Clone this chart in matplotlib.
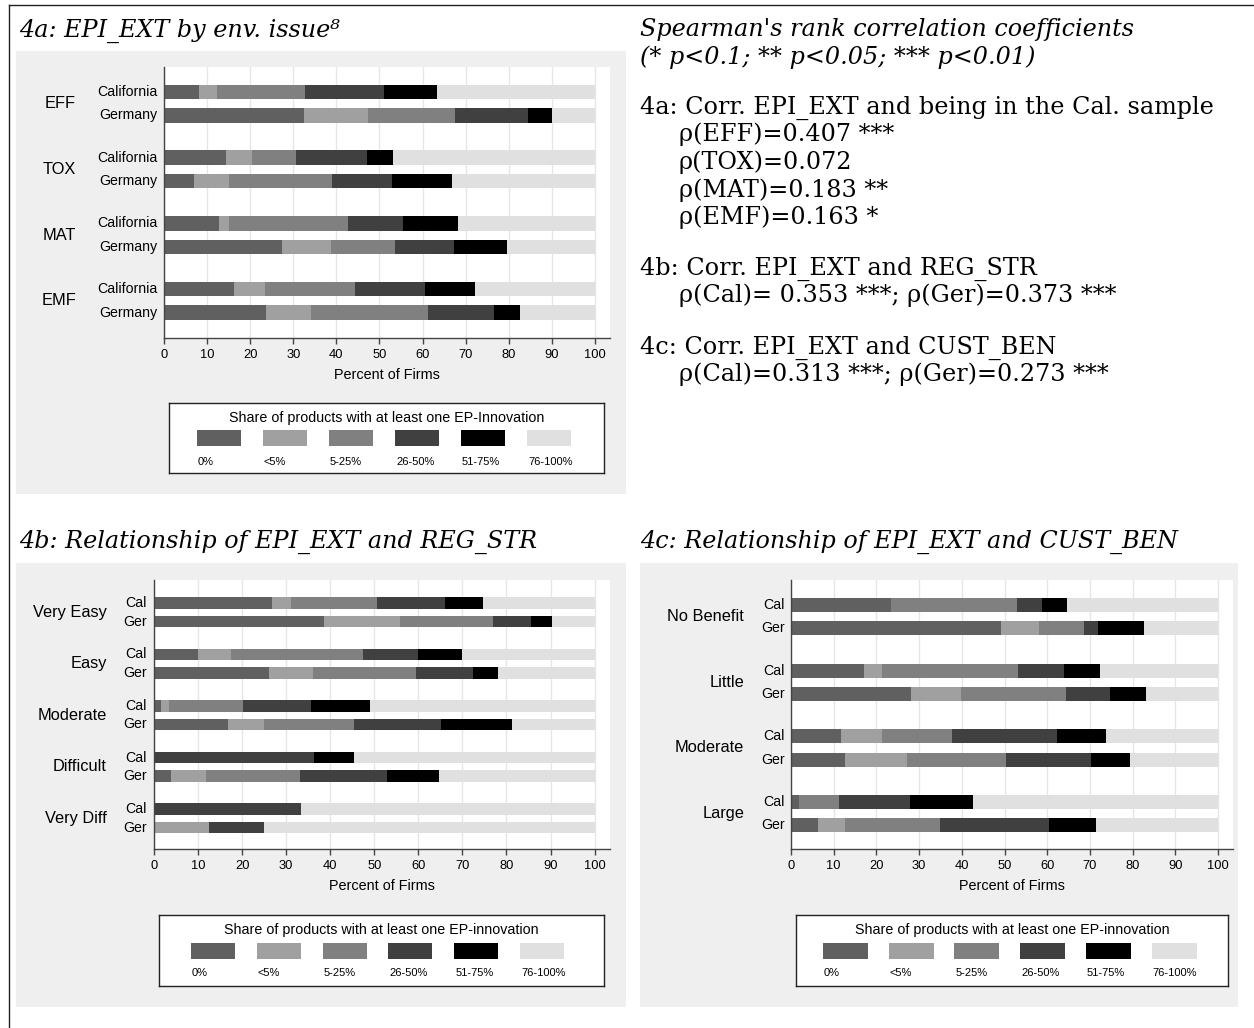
import numpy as np
import matplotlib
matplotlib.use("Agg")
import matplotlib.pyplot as plt
from matplotlib.patches import Rectangle
from matplotlib.lines import Line2D
from matplotlib import transforms

W, H, DPI = 1254, 1028, 100

# ---- categories and shares (percent of firms) ----
share_labels = ["0%", "<5%", "5-25%", "26-50%", "51-75%", "76-100%"]
share_colors = ["#606060", "#a0a0a0", "#808080", "#404040", "#000000", "#e0e0e0"]

issues = ["EFF", "TOX", "MAT", "EMF"]
issue_rows = ["California", "Germany"]
issue_cal = [[8.2, 4.1, 20.4, 18.3, 12.3, 36.7],
             [14.4, 6.0, 10.3, 16.3, 6.1, 46.9],
             [12.8, 2.2, 27.7, 12.7, 12.8, 31.8],
             [16.3, 7.1, 20.9, 16.2, 11.7, 27.8]]
issue_ger = [[32.6, 14.7, 20.3, 16.8, 5.6, 10.0],
             [6.9, 8.1, 24.1, 13.8, 13.9, 33.2],
             [27.4, 11.3, 14.8, 13.7, 12.4, 20.4],
             [23.6, 10.5, 27.1, 15.3, 6.0, 17.5]]

reg_levels = ["Very Easy", "Easy", "Moderate", "Difficult", "Very Diff"]
short_rows = ["Cal", "Ger"]
reg_cal = [[26.8, 4.2, 19.6, 15.5, 8.5, 25.4],
           [10.0, 7.4, 30.1, 12.5, 10.0, 30.0],
           [1.6, 1.8, 16.9, 15.3, 13.5, 50.9],
           [0.0, 0.0, 0.0, 36.3, 9.1, 54.6],
           [0.0, 0.0, 0.0, 33.3, 0.0, 66.7]]
reg_ger = [[38.5, 17.3, 21.1, 8.6, 4.8, 9.7],
           [26.1, 10.1, 23.2, 13.1, 5.6, 21.9],
           [16.9, 8.1, 20.5, 19.6, 16.2, 18.7],
           [3.9, 7.8, 21.5, 19.7, 11.8, 35.3],
           [0.0, 12.5, 0.0, 12.5, 0.0, 75.0]]

ben_levels = ["No Benefit", "Little", "Moderate", "Large"]
ben_cal = [[23.5, 0.0, 29.4, 5.9, 5.9, 35.3],
           [17.0, 4.2, 31.9, 10.8, 8.5, 27.6],
           [11.6, 9.6, 16.5, 24.6, 11.5, 26.2],
           [1.9, 0.0, 9.3, 16.7, 14.7, 57.4]]
ben_ger = [[49.2, 8.8, 10.5, 3.5, 10.6, 17.4],
           [28.0, 11.8, 24.6, 10.2, 8.6, 16.8],
           [12.6, 14.5, 23.3, 19.9, 9.0, 20.7],
           [6.4, 6.3, 22.3, 25.4, 11.0, 28.6]]

x_ticks = list(range(0, 101, 10))

# Spearman results shown in the text column
rho_4a = ["ρ(EFF)=0.407 ***", "ρ(TOX)=0.072", "ρ(MAT)=0.183 **", "ρ(EMF)=0.163 *"]
rho_4b = "ρ(Cal)= 0.353 ***; ρ(Ger)=0.373 ***"
rho_4c = "ρ(Cal)=0.313 ***; ρ(Ger)=0.273 ***"

SANS = ["Liberation Sans", "DejaVu Sans"]
SERIF = ["DejaVu Serif"]
AX_COL = "#444444"

fig = plt.figure(figsize=(W / DPI, H / DPI), dpi=DPI)
fig.patch.set_facecolor("white")


def px_rect(x0, y0, x1, y1):
    return [x0 / W, 1 - y1 / H, (x1 - x0) / W, (y1 - y0) / H]


def fx(x):
    return x / W


def fy(y):
    return 1 - y / H


# outer frame lines (top and left)
fig.add_artist(Line2D([fx(9), 1.0], [fy(5), fy(5)], color="#222222", lw=1))
fig.add_artist(Line2D([fx(9), fx(9)], [fy(5), 0.0], color="#222222", lw=1))

# gray panel backgrounds
for (x0, y0, x1, y1) in [(16, 51, 626, 494), (16, 563, 626, 1007), (640, 563, 1238, 1007)]:
    fig.add_artist(Rectangle((fx(x0), fy(y1)), (x1 - x0) / W, (y1 - y0) / H,
                             transform=fig.transFigure, facecolor="#efefef",
                             edgecolor="none", zorder=0))


def stacked_panel(plot_box, first_px, unit_px, group_px, bar_px,
                  groups, rows, cal, ger, group_x, row_x, xmax=103.5):
    x0, y0, x1, y1 = plot_box
    ax = fig.add_axes(px_rect(x0, y0, x1, y1))
    ax.set_facecolor("white")
    gap = group_px / unit_px
    height = bar_px / unit_px
    ax.set_ylim((y1 - first_px) / unit_px, (y0 - first_px) / unit_px)
    ax.set_xlim(0, xmax)

    data = [np.array(cal, dtype=float), np.array(ger, dtype=float)]
    ng = len(groups)
    for r in range(2):
        ypos = np.arange(ng) * gap + r
        lefts = np.zeros(ng)
        for k in range(len(share_labels)):
            vals = data[r][:, k]
            ax.barh(ypos, vals, left=lefts, height=height,
                    color=share_colors[k], linewidth=0, zorder=2)
            lefts = lefts + vals

    blend = transforms.blended_transform_factory(fig.transFigure, ax.transData)
    for g, name in enumerate(groups):
        ax.text(fx(group_x), g * gap + 0.5, name, transform=blend,
                ha="right", va="center", fontsize=11.8, family=SANS,
                clip_on=False)
        for r, rname in enumerate(rows):
            ax.text(fx(row_x), g * gap + r, rname, transform=blend,
                    ha="right", va="center", fontsize=10.2, family=SANS,
                    clip_on=False)

    ax.set_yticks([])
    ax.set_xticks(x_ticks)
    ax.set_xticklabels([str(t) for t in x_ticks], fontsize=9.3, family=SANS)
    ax.tick_params(axis="x", length=4, width=1, color=AX_COL, pad=4)
    ax.xaxis.grid(True, color="#e6e6e6", linewidth=1)
    ax.set_axisbelow(True)
    for side in ("top", "right"):
        ax.spines[side].set_visible(False)
    for side in ("left", "bottom"):
        ax.spines[side].set_color(AX_COL)
        ax.spines[side].set_linewidth(1)
    ax.set_xlabel("Percent of Firms", fontsize=10.4, family=SANS, labelpad=5)
    return ax


def share_legend(box, title, sw_x0, sw_step, sw_w, title_y, sw_y0, sw_y1, lab_y):
    x0, y0, x1, y1 = box
    lax = fig.add_axes(px_rect(x0, y0, x1, y1))
    lax.set_xlim(x0, x1)
    lax.set_ylim(y1, y0)
    lax.set_xticks([])
    lax.set_yticks([])
    lax.set_facecolor("white")
    for s in lax.spines.values():
        s.set_color("#222222")
        s.set_linewidth(1)
    lax.text((x0 + x1) / 2, title_y, title, ha="center", va="center",
             fontsize=10.3, family=SANS)
    for k, (lab, col) in enumerate(zip(share_labels, share_colors)):
        sx = sw_x0 + k * sw_step
        lax.add_patch(Rectangle((sx, sw_y0), sw_w, sw_y1 - sw_y0,
                                facecolor=col, edgecolor="none"))
        lax.text(sx + 1, lab_y, lab, ha="left", va="center",
                 fontsize=8, family=SANS)


# 4a
stacked_panel((164, 67, 610, 338), 92, 23.5, 65.7, 14.5,
              issues, issue_rows, issue_cal, issue_ger, 76, 157)
share_legend((169, 403, 604, 473), "Share of products with at least one EP-Innovation",
             197, 66, 44, 418, 430, 446, 462)

# 4b
stacked_panel((154, 580, 610, 849), 603, 18.5, 51.5, 11.7,
              reg_levels, short_rows, reg_cal, reg_ger, 107, 147)
share_legend((159, 915, 604, 986), "Share of products with at least one EP-innovation",
             191, 65.8, 44, 930, 943, 959, 973)

# 4c
stacked_panel((791, 580, 1233, 849), 605, 23.2, 65.7, 14,
              ben_levels, short_rows, ben_cal, ben_ger, 744, 785)
share_legend((796, 915, 1228, 986), "Share of products with at least one EP-innovation",
             823, 65.7, 45, 930, 943, 959, 973)

# panel titles
TITLE_FS = 17.2
fig.text(fx(19), fy(37), "4a: EPI_EXT by env. issue\u2078", family=SERIF,
         style="italic", fontsize=TITLE_FS, va="baseline", ha="left")
fig.text(fx(19), fy(548), "4b: Relationship of EPI_EXT and REG_STR", family=SERIF,
         style="italic", fontsize=TITLE_FS, va="baseline", ha="left")
fig.text(fx(640), fy(548), "4c: Relationship of EPI_EXT and CUST_BEN", family=SERIF,
         style="italic", fontsize=TITLE_FS, va="baseline", ha="left")

# correlation notes
TXT_FS = 17.2
fig.text(fx(640), fy(36), "Spearman's rank correlation coefficients", family=SERIF,
         style="italic", fontsize=TXT_FS, va="baseline")
fig.text(fx(640), fy(64), "(* p<0.1; ** p<0.05; *** p<0.01)", family=SERIF,
         style="italic", fontsize=TXT_FS, va="baseline")
fig.text(fx(640), fy(114), "4a: Corr. EPI_EXT and being in the Cal. sample",
         family=SERIF, fontsize=TXT_FS, va="baseline")
for i, line in enumerate(rho_4a):
    fig.text(fx(679), fy(141 + i * 27.8), line, family=SERIF, fontsize=TXT_FS,
             va="baseline")
fig.text(fx(640), fy(275), "4b: Corr. EPI_EXT and REG_STR", family=SERIF,
         fontsize=TXT_FS, va="baseline")
fig.text(fx(679), fy(302), rho_4b, family=SERIF, fontsize=TXT_FS, va="baseline")
fig.text(fx(640), fy(354), "4c: Corr. EPI_EXT and CUST_BEN", family=SERIF,
         fontsize=TXT_FS, va="baseline")
fig.text(fx(679), fy(381), rho_4c, family=SERIF, fontsize=TXT_FS, va="baseline")

fig.savefig("out.png", dpi=DPI)
